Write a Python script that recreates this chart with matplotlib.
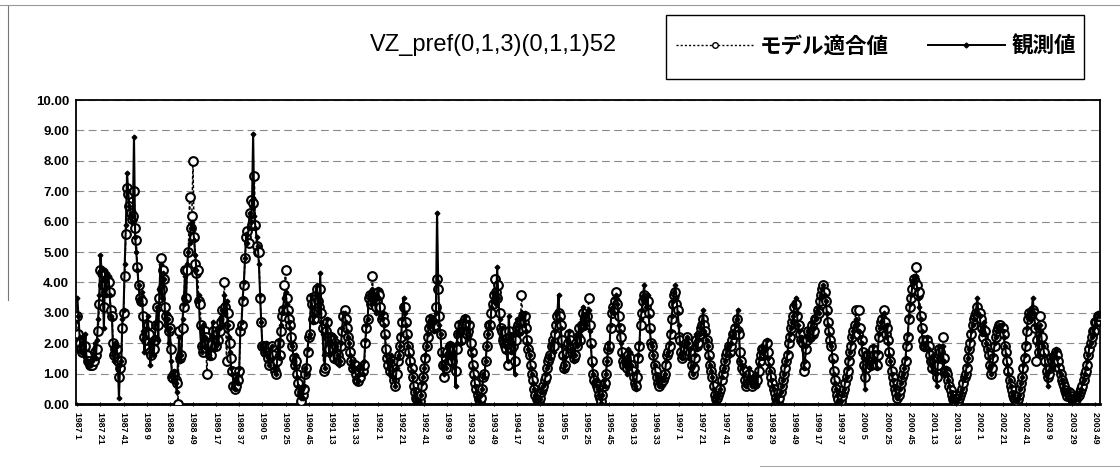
import numpy as np
import matplotlib.pyplot as plt
from matplotlib.lines import Line2D
from matplotlib.patches import Rectangle

title = "VZ_pref(0,1,3)(0,1,1)52"
series_names = ["モデル適合値", "観測値"]
first_year = 1987
weeks_per_year = 52
label_step = 20

# weekly observed values, 1987 week 1 .. 2003 week 52
observed = [
    # 1987
    3.5, 2.9, 2.2, 1.7, 2.0, 2.2, 1.6, 2.3, 1.4, 1.4, 1.3, 1.4, 1.3, 1.4, 1.5, 2.0, 1.5, 2.1, 2.8, 3.6,
    4.9, 4.4, 3.6, 2.5, 4.4, 3.6, 4.3, 4.2, 3.6, 2.9, 2.8, 1.6, 1.4, 2.0, 1.9, 1.3, 0.2, 1.3, 1.4, 2.8,
    3.1, 4.6, 5.9, 7.6, 7.0, 6.5, 6.3, 6.0, 6.2, 8.8, 5.5, 5.0,
    # 1988
    4.4, 3.9, 3.4, 3.3, 3.7, 2.4, 1.7, 2.2,
    2.5, 2.9, 2.0, 1.3, 1.6, 2.1, 1.6, 2.2, 2.7, 3.2, 2.1, 3.8, 4.6, 3.5, 4.3, 4.1, 2.6, 3.0, 2.8, 2.0,
    2.5, 1.4, 0.9, 0.8, 1.1, 0.7, 0.4, 1.4, 2.2, 1.4, 1.6, 2.8, 3.3, 4.2, 3.4, 4.6, 5.0, 5.3, 5.8, 6.0,
    5.8, 5.4, 4.9, 4.4,
    # 1989
    3.4, 3.6, 2.5, 1.9, 1.7, 2.6, 2.2, 1.9, 1.7, 2.1, 1.6, 1.5, 1.8, 2.7, 2.2, 1.8, 1.9, 2.5, 2.0, 2.5,
    2.8, 3.1, 2.6, 3.6, 3.0, 3.4, 2.6, 2.2, 1.7, 1.2, 1.0, 0.7, 0.5, 0.8, 1.0, 0.7, 1.2, 2.5, 2.7, 3.5,
    4.0, 4.8, 5.6, 5.3, 5.8, 6.3, 6.0, 6.5, 8.9, 6.2, 5.8, 5.5,
    # 1990
    5.2, 4.6, 3.6, 2.7, 1.9,
    1.8, 1.7, 2.0, 1.6, 1.4, 1.3, 1.8, 1.9, 1.5, 1.2, 1.1, 1.0, 1.6, 2.1, 1.5, 2.6, 3.0, 3.2, 3.5, 3.7,
    3.3, 3.0, 2.7, 2.5, 2.0, 1.9, 1.4, 1.2, 1.6, 0.9, 0.6, 0.3, 0.2, 0.5, 0.2, 0.6, 1.2, 1.0, 1.8, 2.2,
    2.3, 3.6, 3.2, 2.7, 2.9, 3.6, 3.9,
    # 1991
    3.2, 3.0, 4.3, 2.7, 2.3, 1.6, 1.2, 2.6, 2.8, 2.0, 1.6, 2.3, 2.0,
    1.7, 1.4, 2.2, 1.9, 1.6, 1.3, 1.4, 2.0, 2.5, 3.0, 3.0, 2.7, 2.4, 2.2, 2.0, 1.6, 1.4, 1.1, 1.4, 1.2,
    0.9, 0.7, 0.8, 1.0, 1.3, 1.2, 1.0, 1.4, 2.1, 2.6, 2.8, 3.6, 3.7, 3.3, 3.8, 3.5, 3.6, 3.0, 3.5,
    # 1992
    3.8, 3.5, 3.0, 2.8, 3.0, 2.6, 2.2, 1.6, 1.4, 1.2, 1.0, 1.6, 1.4, 0.9, 0.8, 0.6, 1.2, 1.5, 1.6, 1.9,
    2.3, 2.8, 3.5, 3.0, 2.6, 2.2, 1.9, 1.6, 1.3, 1.1, 0.9, 0.5, 0.4, 0.2, 0.1, 0.1, 0.05, 0.3, 0.7, 0.9,
    1.2, 1.6, 1.9, 2.3, 2.6, 2.9, 2.6, 2.8, 2.4, 2.7, 3.0, 6.3,
    # 1993
    4.0, 2.6, 2.3, 1.6, 1.2, 1.0, 1.4, 1.2, 1.9, 1.6, 2.0, 1.5, 1.3, 1.9, 1.7, 0.6, 2.0, 2.4, 2.7, 2.3,
    2.0, 2.5, 2.8, 2.9, 2.5, 2.2, 2.4, 2.7, 1.8, 1.6, 1.2, 0.9, 0.6, 0.4, 0.2, 0.1, 0.05, 0.3, 0.5, 1.0,
    0.9, 1.4, 1.9, 2.3, 2.7, 2.5, 3.2, 3.4, 3.7, 3.4, 3.3, 4.5,
    # 1994
    3.5, 2.8, 2.2, 2.5, 2.0, 2.1, 1.9, 1.7, 1.4, 2.9, 2.2, 1.7, 2.3, 2.0, 1.0, 2.4, 2.8, 2.6, 2.3, 2.6,
    3.0, 2.9, 2.6, 3.0, 2.4, 2.0, 1.8, 1.6, 1.2, 1.0, 0.7, 0.5, 0.3, 0.1, 0.2, 0.05, 0.15, 0.5, 0.4, 0.6,
    0.7, 1.0, 1.2, 1.3, 1.6, 1.5, 2.0, 2.1, 1.7, 2.4, 2.7, 3.0,
    # 1995
    3.6, 2.8, 2.5, 1.9, 1.5, 1.1, 1.3, 1.8, 2.1, 2.4, 2.0, 1.7, 1.8, 1.4, 1.6, 2.2, 1.9, 2.3, 2.6, 2.0,
    2.8, 3.2, 2.5, 2.9, 2.6, 3.0, 3.1, 2.4, 1.9, 1.3, 1.0, 0.7, 0.8, 0.6, 0.5, 0.3, 0.2, 0.05, 0.3, 0.8,
    0.6, 1.0, 1.4, 2.0, 1.8, 2.6, 3.1, 3.2, 3.0, 3.5, 3.6, 3.3,
    # 1996
    2.6, 2.4, 2.0, 1.6, 1.4, 1.3, 1.5, 1.0, 1.8, 1.2, 1.7, 1.3, 1.0, 0.8, 0.6, 0.5, 1.1, 1.6, 2.0, 2.8,
    3.1, 3.5, 3.9, 3.4, 3.2, 3.6, 2.9, 2.4, 2.0, 1.9, 1.6, 1.3, 1.0, 0.9, 0.7, 0.6, 0.9, 0.6, 0.8, 0.9,
    1.0, 1.4, 1.6, 1.7, 2.0, 2.4, 2.9, 3.4, 3.7, 3.9, 3.5, 3.0,
    # 1997
    2.6, 2.0, 1.6, 1.5, 1.7, 1.9, 2.1, 2.2, 2.0, 1.5, 1.8, 1.2, 1.0, 1.3, 1.6, 2.3, 1.8, 2.1, 2.3, 2.5,
    2.7, 3.1, 2.4, 2.3, 2.1, 1.9, 1.5, 1.3, 1.1, 0.9, 0.5, 0.3, 0.1, 0.2, 0.3, 0.4, 0.5, 0.9, 1.1, 1.2,
    1.4, 1.6, 1.8, 1.9, 1.6, 2.0, 2.2, 2.4, 2.3, 2.6, 2.8, 3.1,
    # 1998
    2.4, 1.4, 1.3, 1.2, 1.0, 0.7, 0.6, 0.8, 0.9, 1.2, 0.7, 0.6, 0.9, 0.6, 0.7, 1.0, 0.6, 1.3, 1.5, 1.7,
    1.9, 1.7, 1.5, 1.8, 2.1, 1.5, 1.3, 1.1, 0.8, 0.6, 0.5, 0.3, 0.2, 0.1, 0.05, 0.3, 0.4, 0.6, 0.8, 1.0,
    1.3, 1.4, 1.7, 2.1, 2.3, 2.5, 2.7, 2.9, 3.3, 3.5, 3.0, 2.6,
    # 1999
    2.4, 2.1, 2.2, 1.9, 1.2, 1.4, 1.9, 2.2, 2.4, 2.1, 2.5, 2.7, 2.2, 2.5, 2.9, 2.8, 3.2, 3.0, 3.5, 3.6,
    3.8, 3.9, 3.6, 3.4, 3.0, 2.6, 2.3, 2.0, 1.9, 1.4, 1.0, 0.7, 0.5, 0.3, 0.1, 0.05, 0.1, 0.3, 0.4, 0.5,
    0.8, 0.9, 1.2, 1.5, 1.7, 2.0, 2.2, 2.4, 2.6, 2.8, 2.6, 2.4,
    # 2000
    2.4, 2.2, 2.0, 1.5, 1.1, 0.5, 1.4, 1.7, 1.6, 1.3, 1.2, 1.4, 1.9, 1.5, 1.4, 1.2, 1.7, 2.3, 2.5, 2.7,
    2.9, 3.0, 2.5, 2.2, 2.6, 2.0, 1.6, 1.4, 1.0, 0.8, 0.6, 0.5, 0.3, 0.2, 0.3, 0.5, 0.7, 0.9, 1.0, 1.2,
    1.5, 2.0, 2.3, 2.9, 3.3, 3.6, 3.9, 4.2, 4.0, 4.2, 3.8, 3.5,
    # 2001
    3.2, 2.8, 2.4, 2.0, 1.8, 1.9, 2.0, 2.2, 1.8, 1.5, 1.3, 1.1, 1.6, 1.4, 1.0, 0.6, 1.4, 1.9, 1.6, 1.4,
    1.9, 1.4, 1.0, 1.2, 1.0, 0.8, 0.6, 0.4, 0.3, 0.1, 0.2, 0.1, 0.05, 0.15, 0.2, 0.3, 0.4, 0.5, 0.8, 0.9,
    1.0, 1.3, 1.5, 1.8, 2.1, 2.4, 2.6, 2.8, 3.0, 3.1, 3.5, 3.0,
    # 2002
    2.9, 2.6, 2.3, 2.4, 2.7, 2.3, 2.0, 1.8, 1.5, 1.2, 1.0, 1.3, 1.6, 2.0, 2.2, 2.4, 2.5, 2.6, 2.5, 2.6,
    2.4, 2.2, 1.9, 1.6, 1.3, 1.0, 0.8, 0.6, 0.4, 0.3, 0.2, 0.15, 0.1, 0.2, 0.3, 0.5, 0.7, 0.9, 1.3, 1.6,
    2.0, 2.5, 2.9, 3.1, 2.8, 3.0, 3.5, 3.0, 2.6, 2.5, 2.0, 1.6,
    # 2003
    2.6, 2.4, 2.0, 1.9, 1.6, 1.3, 1.0, 0.6, 1.1, 1.3, 1.6, 1.2, 1.6, 1.7, 1.8, 1.5, 1.3, 1.1, 1.0, 0.8,
    0.7, 0.5, 0.4, 0.3, 0.2, 0.5, 0.3, 0.2, 0.1, 0.05, 0.1, 0.2, 0.3, 0.2, 0.3, 0.4, 0.5, 0.7, 0.8, 1.0,
    1.2, 1.4, 1.6, 1.9, 2.0, 2.2, 2.5, 2.3, 2.8, 2.6, 3.0, 2.9,
]

# weekly model fitted values, same weeks
fitted = [
    # 1987
    2.9, 2.3, 2.0, 1.8, 1.7, 1.9, 1.8, 1.9, 1.6, 1.4, 1.4, 1.3, 1.3, 1.3, 1.4, 1.7, 1.6, 1.8, 2.4, 3.3,
    4.4, 4.3, 3.9, 3.2, 3.9, 3.7, 4.1, 4.0, 3.7, 3.1, 2.9, 2.0, 1.6, 1.8, 1.8, 1.4, 0.9, 1.2, 1.4, 2.5,
    3.0, 4.2, 5.6, 7.1, 6.9, 6.5, 6.3, 6.1, 6.2, 7.0, 5.8, 5.4,
    # 1988
    4.5, 3.9, 3.5, 3.4, 3.4, 2.9, 2.2, 2.1,
    2.3, 2.6, 2.3, 1.7, 1.6, 2.0, 1.8, 2.1, 2.6, 3.2, 2.6, 3.5, 4.8, 3.8, 4.4, 4.1, 3.2, 2.9, 2.8, 2.4,
    2.5, 1.8, 0.9, 0.85, 1.0, 0.8, 0.7, 0.0, 2.4, 1.5, 1.6, 2.5, 3.2, 4.4, 3.5, 4.4, 5.0, 6.8, 5.8, 6.2,
    8.0, 5.5, 4.6, 4.3,
    # 1989
    4.4, 3.4, 3.3, 2.6, 1.9, 1.7, 2.4, 2.2, 1.0, 1.9, 2.0, 1.6, 1.6, 2.4, 2.2, 1.9, 1.9, 2.3, 2.1, 2.4,
    2.7, 3.1, 2.8, 4.0, 3.2, 1.4, 3.0, 2.6, 2.0, 1.5, 1.1, 0.6, 0.5, 0.6, 0.9, 0.8, 1.1, 2.4, 2.6, 3.4,
    3.9, 4.8, 5.5, 5.7, 5.3, 6.3, 6.7, 5.9, 6.6, 7.5, 5.9, 5.2,
    # 1990
    5.0, 5.0, 3.5, 2.7, 1.9,
    1.9, 1.7, 1.9, 1.7, 1.5, 1.3, 1.6, 1.9, 1.6, 1.3, 1.1, 1.0, 1.4, 2.0, 1.6, 2.4, 2.9, 3.1, 3.9, 4.4,
    3.5, 3.1, 2.8, 2.6, 2.2, 1.9, 1.5, 1.3, 1.4, 1.0, 0.7, 0.4, 0.1, 0.4, 0.3, 0.5, 1.0, 1.2, 1.7, 2.2,
    2.3, 3.5, 3.3, 2.8, 2.8, 3.6, 3.8,
    # 1991
    3.4, 3.2, 3.8, 3.0, 2.5, 1.1, 1.2, 2.4, 2.7, 2.2, 1.8, 2.2, 2.1,
    1.8, 1.5, 2.0, 1.9, 1.6, 1.4, 1.4, 1.9, 2.4, 2.9, 3.1, 2.8, 2.5, 2.2, 2.0, 1.7, 1.4, 1.2, 1.3, 1.3,
    1.0, 0.8, 0.75, 0.9, 1.2, 1.2, 1.1, 1.3, 2.0, 2.5, 2.8, 3.5, 3.6, 3.3, 4.2, 3.6, 3.5, 3.2, 3.4,
    # 1992
    3.7, 3.6, 3.2, 2.8, 2.9, 2.7, 2.3, 1.8, 1.5, 1.3, 1.1, 1.4, 1.4, 1.0, 0.8, 0.6, 1.0, 1.4, 1.6, 1.9,
    2.2, 2.7, 3.2, 3.2, 2.7, 2.3, 1.9, 1.7, 1.4, 1.2, 0.9, 0.6, 0.4, 0.2, 0.15, 0.1, 0.1, 0.3, 0.6, 0.9,
    1.2, 1.5, 1.9, 2.2, 2.5, 2.8, 2.6, 2.7, 2.5, 2.6, 3.2, 4.1,
    # 1993
    3.8, 2.9, 2.3, 1.7, 1.3, 0.9, 1.3, 1.2, 1.7, 1.6, 1.9, 1.6, 1.4, 1.8, 1.8, 1.1, 1.8, 2.3, 2.6, 2.3,
    2.1, 2.4, 2.7, 2.8, 2.6, 2.3, 2.4, 2.6, 2.0, 1.7, 1.3, 1.0, 0.7, 0.5, 0.3, 0.15, 0.1, 0.2, 0.5, 0.9,
    1.0, 1.4, 1.9, 2.3, 2.6, 2.6, 3.0, 3.3, 3.6, 4.1, 3.7, 3.5,
    # 1994
    3.9, 3.0, 2.5, 2.4, 2.1, 2.0, 1.9, 1.8, 1.3, 2.4, 2.2, 1.8, 2.1, 1.9, 1.4, 2.1, 2.5, 2.6, 2.4, 2.5,
    3.6, 2.9, 2.7, 2.9, 2.5, 2.1, 1.8, 1.6, 1.3, 1.0, 0.8, 0.5, 0.3, 0.15, 0.15, 0.1, 0.2, 0.4, 0.5, 0.6,
    0.8, 0.9, 1.2, 1.4, 1.5, 1.6, 1.9, 2.1, 1.9, 2.3, 2.6, 2.9,
    # 1995
    3.0, 2.9, 2.6, 2.1, 1.6, 1.2, 1.3, 1.7, 2.0, 2.3, 2.1, 1.8, 1.7, 1.5, 1.6, 2.0, 1.9, 2.2, 2.5, 2.1,
    2.6, 3.0, 2.6, 2.8, 2.7, 2.9, 3.5, 2.6, 2.0, 1.4, 1.0, 0.8, 0.7, 0.6, 0.5, 0.3, 0.2, 0.1, 0.3, 0.6,
    0.7, 1.0, 1.4, 1.8, 1.9, 2.5, 3.0, 3.2, 3.1, 3.4, 3.7, 3.3,
    # 1996
    2.9, 2.5, 2.2, 1.7, 1.4, 1.3, 1.4, 1.2, 1.6, 1.3, 1.5, 1.3, 1.1, 0.9, 0.7, 0.6, 0.9, 1.5, 1.9, 2.6,
    3.0, 3.4, 3.6, 3.5, 3.2, 3.4, 3.0, 2.5, 2.0, 1.9, 1.6, 1.3, 1.1, 0.9, 0.7, 0.6, 0.8, 0.7, 0.8, 0.9,
    1.0, 1.3, 1.6, 1.7, 1.9, 2.3, 2.8, 3.3, 3.6, 3.7, 3.3, 3.1,
    # 1997
    2.2, 2.1, 1.7, 1.5, 1.6, 1.8, 2.0, 2.2, 2.0, 1.6, 1.7, 1.3, 1.0, 1.2, 1.5, 2.1, 1.9, 2.0, 2.3, 2.5,
    2.6, 2.8, 2.6, 2.4, 2.1, 1.9, 1.6, 1.3, 1.1, 0.9, 0.6, 0.3, 0.15, 0.2, 0.3, 0.4, 0.5, 0.8, 1.0, 1.2,
    1.4, 1.6, 1.7, 1.9, 1.7, 1.9, 2.1, 2.3, 2.3, 2.5, 2.8, 2.4,
    # 1998
    2.3, 1.7, 1.4, 1.2, 1.1, 0.8, 0.6, 0.7, 0.9, 1.0, 0.8, 0.6, 0.8, 0.7, 0.7, 0.9, 0.8, 1.1, 1.4, 1.6,
    1.8, 1.8, 1.6, 1.7, 2.0, 1.7, 1.4, 1.1, 0.9, 0.7, 0.5, 0.35, 0.2, 0.1, 0.1, 0.2, 0.4, 0.6, 0.8, 1.0,
    1.2, 1.4, 1.6, 2.0, 2.2, 2.5, 2.7, 2.9, 3.2, 3.3, 2.9, 2.6,
    # 1999
    2.6, 2.3, 2.1, 2.0, 1.1, 1.3, 1.8, 2.1, 2.4, 2.2, 2.4, 2.6, 2.3, 2.4, 2.8, 2.8, 3.1, 3.0, 3.4, 3.6,
    3.8, 3.9, 3.7, 3.4, 3.1, 2.7, 2.4, 2.1, 1.9, 1.5, 1.1, 0.8, 0.5, 0.3, 0.15, 0.05, 0.1, 0.25, 0.4, 0.5,
    0.7, 0.9, 1.1, 1.4, 1.7, 1.9, 2.2, 2.4, 2.6, 3.1, 2.5, 2.3,
    # 2000
    3.1, 2.5, 2.1, 1.7, 1.3, 0.9, 1.2, 1.6, 1.6, 1.4, 1.3, 1.4, 1.8, 1.6, 1.4, 1.3, 1.6, 2.2, 2.5, 2.7,
    2.8, 3.1, 2.7, 2.3, 2.5, 2.1, 1.7, 1.4, 1.1, 0.9, 0.7, 0.5, 0.35, 0.2, 0.3, 0.45, 0.7, 0.9, 1.0, 1.2,
    1.4, 1.9, 2.2, 2.8, 3.2, 3.5, 3.8, 4.1, 4.0, 4.5, 3.9, 3.6,
    # 2001
    3.7, 2.9, 2.5, 2.1, 1.9, 1.9, 2.0, 2.1, 1.9, 1.6, 1.4, 1.2, 1.4, 1.4, 1.1, 0.9, 1.3, 1.8, 1.7, 1.5,
    2.2, 1.5, 1.1, 1.1, 1.0, 0.8, 0.6, 0.45, 0.3, 0.15, 0.15, 0.1, 0.05, 0.1, 0.2, 0.3, 0.4, 0.5, 0.7, 0.9,
    1.0, 1.2, 1.5, 1.8, 2.0, 2.3, 2.6, 2.8, 2.9, 3.0, 3.2, 2.9,
    # 2002
    3.0, 2.8, 2.5, 2.2, 2.4, 2.4, 2.0, 1.8, 1.6, 1.3, 1.0, 1.2, 1.5, 1.9, 2.2, 2.4, 2.5, 2.6, 2.6, 2.5,
    2.5, 2.3, 1.9, 1.7, 1.4, 1.1, 0.8, 0.6, 0.45, 0.3, 0.2, 0.15, 0.1, 0.15, 0.3, 0.5, 0.7, 0.9, 1.2, 1.5,
    1.9, 2.4, 2.8, 3.0, 2.9, 3.0, 3.1, 3.0, 2.5, 1.4, 2.1, 1.7,
    # 2003
    2.9, 2.6, 2.2, 1.9, 1.7, 1.4, 1.1, 0.9, 1.0, 1.2, 1.5, 1.4, 1.5, 1.6, 1.7, 1.6, 1.4, 1.2, 1.0, 0.8,
    0.7, 0.6, 0.45, 0.35, 0.25, 0.4, 0.35, 0.25, 0.15, 0.1, 0.1, 0.15, 0.25, 0.25, 0.3, 0.4, 0.5, 0.6, 0.8, 1.0,
    1.1, 1.3, 1.6, 1.8, 2.0, 2.2, 2.4, 2.4, 2.7, 2.7, 2.9, 2.9,
]

assert len(observed) == len(fitted), (len(observed), len(fitted))

sans = ["Liberation Sans", "DejaVu Sans"]
jp = ["Noto Sans CJK JP", "DejaVu Sans"]

n = len(observed)
x = np.arange(n)
tick_pos = x[::label_step]
tick_labels = [f"{first_year + k // weeks_per_year} {k % weeks_per_year + 1}" for k in tick_pos]

fig = plt.figure(figsize=(11.2, 4.72), dpi=100)
fig.patch.set_facecolor("white")

ax = fig.add_axes([0.068, 0.144, 0.914, 0.644])
fit_line, = ax.plot(x, fitted, color="black", lw=1.1, linestyle=(0, (2, 1.5)),
                    marker="o", ms=6.3, mfc="white", mec="black", mew=1.5, zorder=3)
obs_line, = ax.plot(x, observed, color="black", lw=1.5, linestyle="-",
                    marker="D", ms=2.4, mfc="black", mec="black", zorder=4)

ax.set_xlim(-1, n)
ax.set_ylim(0, 10)
ax.set_yticks(range(11))
ax.set_yticklabels([f"{v:.2f}" for v in range(11)], fontfamily=sans,
                   fontweight="bold", fontsize=9.5)
ax.yaxis.grid(True, color="#8a8a8a", linestyle=(0, (7, 4)), lw=0.8)
ax.set_axisbelow(True)
ax.tick_params(axis="y", length=0, pad=5)

ax.set_xticks(tick_pos)
ax.set_xticklabels(tick_labels, rotation=-90, fontfamily=sans,
                   fontweight="bold", fontsize=6.3)
ax.set_xticks(x, minor=True)
ax.tick_params(axis="x", which="major", length=3, direction="inout", pad=4)
ax.tick_params(axis="x", which="minor", length=2, direction="inout", width=0.6)

for side in ["left", "right", "top"]:
    ax.spines[side].set_linewidth(1.3)
ax.spines["bottom"].set_linewidth(2.0)

fig.text(0.441, 0.904, title, ha="center", va="center", fontsize=17,
         fontfamily=sans)

# legend box
fig.add_artist(Rectangle((666 / 1120, 1 - 79 / 472), 418 / 1120, 64 / 472,
                         transform=fig.transFigure, fill=False,
                         edgecolor="black", lw=1.0))
h_fit = Line2D([], [], color="black", lw=1.0, linestyle=(0, (1.5, 1.5)),
               marker="o", ms=4, mfc="white", mec="black", mew=1.0)
h_obs = Line2D([], [], color="black", lw=1.4, marker="D", ms=2.5)
fig.legend([h_fit, h_obs], series_names, loc="center",
           bbox_to_anchor=(876 / 1120, 1 - 46 / 472), ncol=2, frameon=False,
           prop={"family": jp, "weight": "bold", "size": 15.5},
           handlelength=3.6, columnspacing=1.8, handletextpad=0.3)

# faint outer frame of the chart sheet
fig.add_artist(Line2D([8 / 1120, 8 / 1120], [1 - 300 / 472, 1 - 5 / 472],
                      transform=fig.transFigure, color="#777777", lw=0.8))
fig.add_artist(Line2D([0, 1], [1 - 5 / 472, 1 - 5 / 472],
                      transform=fig.transFigure, color="#999999", lw=0.8))
fig.add_artist(Line2D([760 / 1120, 1], [1 - 466 / 472, 1 - 466 / 472],
                      transform=fig.transFigure, color="#aaaaaa", lw=0.8))

fig.savefig("out.png", dpi=100, facecolor="white")
